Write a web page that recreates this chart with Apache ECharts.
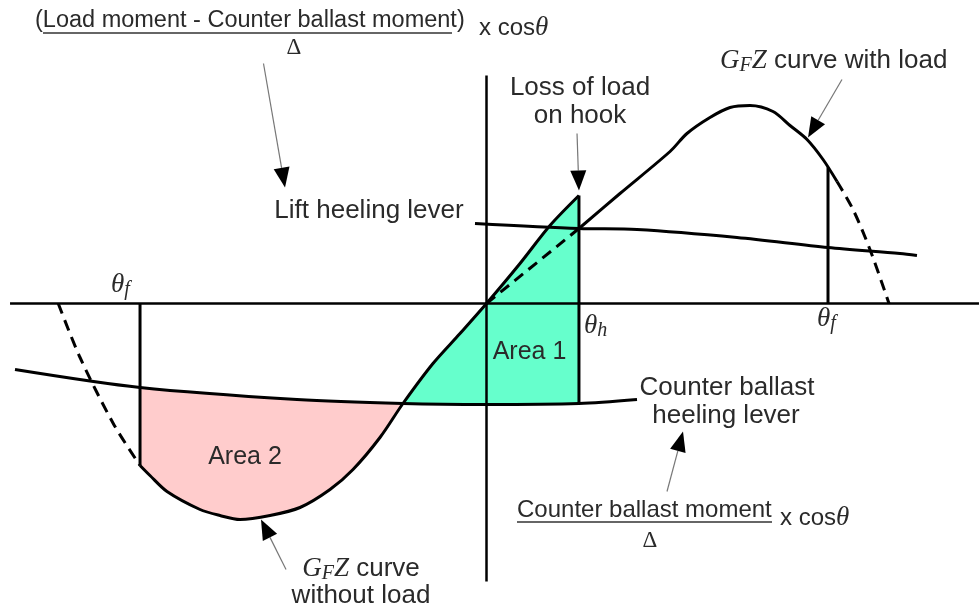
<!DOCTYPE html>
<html>
<head>
<meta charset="utf-8">
<script src="https://cdn.jsdelivr.net/npm/echarts@6/dist/echarts.min.js"></script>
<style>
  html, body { margin: 0; padding: 0; background: #ffffff; }
  #chart { width: 979px; height: 609px; }
</style>
</head>
<body>
<div id="chart"></div>
<script>
// Heel angle θ in degrees (x) against lever in metres (y)

// Angles of interest
const thetaFLeft = -37.66;   // flooding angle, heel to the counter-ballast side
const thetaH = 10.05;        // heel at the moment the load is lost
const thetaFRight = 37.12;   // flooding angle, heel to the load side

// G_F Z curve without load (solid part, from θf up to the loss-of-load point)
const gzNoLoad = [
  [-37.66, -0.81], [-36.58, -0.86], [-34.73, -0.94], [-31.14, -1.03],
  [-28.97, -1.06], [-26.79, -1.08], [-23.53, -1.06], [-20.27, -1.02],
  [-17.01, -0.93], [-14.51, -0.83], [-11.58, -0.67], [-9.08, -0.50],
  [-5.82, -0.30], [-2.88, -0.15], [0, 0], [3.64, 0.20],
  [6.90, 0.39], [10.05, 0.54]
];
// same curve beyond the flooding angle
const gzNoLoadBeyond = [
  [-46.55, 0], [-44.18, -0.27], [-40.57, -0.60], [-37.66, -0.81]
];

// G_F Z curve with load
const gzLoadStart = [[0, 0], [10.05, 0.375]];
const gzLoad = [
  [10.05, 0.375], [14.51, 0.55], [19.95, 0.76], [21.79, 0.85],
  [24.29, 0.93], [26.47, 0.98], [28.64, 0.99], [31.14, 0.96],
  [32.99, 0.89], [34.84, 0.82], [36.58, 0.72], [38.10, 0.61]
];
const gzLoadBeyond = [
  [38.10, 0.61], [39.84, 0.47], [41.68, 0.27], [43.75, 0]
];

// Heeling levers
const liftLever = [
  [-1.25, 0.40], [10.05, 0.375], [16.36, 0.37], [27.23, 0.33],
  [37.12, 0.28], [44.95, 0.25], [46.79, 0.24]
];
const counterLever = [
  [-51.25, -0.33], [-37.66, -0.42], [-20.6, -0.48], [-9.08, -0.50],
  [0, -0.505], [10.05, -0.50], [16.36, -0.48]
];

// Axes drawn as plain lines
const heelAxis = [[-51.79, 0], [53.53, 0]];
const leverAxis = [[0, 1.14], [0, -1.39]];

// Callout arrows: [tailX, tailY, tipX, tipY]
const arrows = [
  [-24.24, 1.20, -21.90, 0.58],
  [9.84, 0.85, 10.05, 0.565],
  [38.64, 1.12, 34.95, 0.83],
  [19.62, -0.94, 21.36, -0.64],
  [-21.79, -1.33, -24.51, -1.08]
];

function valueAt(arr, x) {
  for (let i = 0; i < arr.length - 1; i++) {
    const a = arr[i], b = arr[i + 1];
    if ((x - a[0]) * (x - b[0]) <= 0) {
      const t = b[0] === a[0] ? 0 : (x - a[0]) / (b[0] - a[0]);
      return a[1] + t * (b[1] - a[1]);
    }
  }
  return arr[arr.length - 1][1];
}

const between = (arr, lo, hi) => arr.filter(p => p[0] >= lo - 1e-9 && p[0] <= hi + 1e-9);
const crossing = gzNoLoad.find(p => Math.abs(p[0] - (-9.08)) < 1e-9)[0];

// Shaded areas
const area1 = between(gzNoLoad, crossing, thetaH)
  .concat(between(counterLever, crossing, thetaH).reverse());
const area2 = between(gzNoLoad, thetaFLeft, crossing)
  .concat(between(counterLever, thetaFLeft, crossing).reverse());

// Vertical markers
const markFLeft = [[thetaFLeft, 0], [thetaFLeft, valueAt(gzNoLoad, thetaFLeft)]];
const markH = [[thetaH, valueAt(counterLever, thetaH)], [thetaH, valueAt(gzNoLoad, thetaH)]];
const markFRight = [[thetaFRight, 0], [thetaFRight, valueAt(gzLoad, thetaFRight)]];

const chart = echarts.init(document.getElementById('chart'), null, { renderer: 'canvas' });

const sans = '"Liberation Sans", Arial, sans-serif';
const serif = '"Liberation Serif", "Times New Roman", serif';
const ink = '#2a2a2a';

function polygonSeries(points, color) {
  return {
    type: 'custom',
    silent: true,
    z: 1,
    data: [[0]],
    renderItem: function (params, api) {
      return {
        type: 'polygon',
        shape: { points: points.map(p => api.coord(p)) },
        style: { fill: color, stroke: 'none' }
      };
    }
  };
}

function lineSeries(data, width, dashed, smooth) {
  return {
    type: 'line',
    data: data,
    symbol: 'none',
    silent: true,
    z: 3,
    smooth: smooth || false,
    lineStyle: { color: '#000', width: width, type: dashed ? [11, 7] : 'solid', cap: 'butt', join: 'round' }
  };
}

const arrowSeries = {
  type: 'custom',
  silent: true,
  z: 5,
  data: arrows,
  renderItem: function (params, api) {
    const a = api.coord([api.value(0), api.value(1)]);
    const b = api.coord([api.value(2), api.value(3)]);
    const dx = b[0] - a[0], dy = b[1] - a[1];
    const len = Math.sqrt(dx * dx + dy * dy);
    const ux = dx / len, uy = dy / len;
    const headL = 20, headW = 16;
    const base = [b[0] - ux * headL, b[1] - uy * headL];
    const left = [base[0] - uy * headW / 2, base[1] + ux * headW / 2];
    const right = [base[0] + uy * headW / 2, base[1] - ux * headW / 2];
    return {
      type: 'group',
      children: [
        { type: 'line', shape: { x1: a[0], y1: a[1], x2: base[0], y2: base[1] },
          style: { stroke: '#777', lineWidth: 1.2 } },
        { type: 'polygon', shape: { points: [b, left, right] },
          style: { fill: '#000' } }
      ]
    };
  }
};

function label(x, y, text, size, align) {
  return { type: 'text', x: x, y: y, z: 10, silent: true,
    style: { text: text, fill: ink, font: size + 'px ' + sans, align: align || 'center', verticalAlign: 'middle' } };
}

function rich(x, y, text, align) {
  return { type: 'text', x: x, y: y, z: 10, silent: true,
    style: {
      text: text, align: align || 'left', verticalAlign: 'middle', fill: ink,
      rich: {
        n: { fontFamily: sans, fontSize: 26, fill: ink },
        f: { fontFamily: sans, fontSize: 24, fill: ink },
        i: { fontFamily: serif, fontStyle: 'italic', fontSize: 27, fill: ink },
        s: { fontFamily: serif, fontStyle: 'italic', fontSize: 20, fill: ink, padding: [10, 0, 0, 0] }
      }
    } };
}

function rule(x1, x2, y) {
  return { type: 'line', z: 10, silent: true, shape: { x1: x1, y1: y, x2: x2, y2: y },
    style: { stroke: '#333', lineWidth: 1.6 } };
}

function delta(x, y) {
  return { type: 'text', x: x, y: y, z: 10, silent: true,
    style: { text: 'Δ', fill: ink, font: '23px ' + serif, align: 'center', verticalAlign: 'middle' } };
}

const option = {
  animation: false,
  backgroundColor: '#ffffff',
  grid: { left: 0, right: 0, top: 0, bottom: 0, containLabel: false },
  xAxis: { type: 'value', min: -486.5 / 9.2, max: 492.5 / 9.2, show: false },
  yAxis: { type: 'value', min: -305.5 / 200, max: 303.5 / 200, show: false },
  series: [
    polygonSeries(area1, '#66ffcc'),
    polygonSeries(area2, '#ffcccc'),
    lineSeries(heelAxis, 2.5, false),
    lineSeries(leverAxis, 2.5, false),
    lineSeries(counterLever, 3, false, 0.3),
    lineSeries(liftLever, 3, false, 0.3),
    lineSeries(markFLeft, 3, false),
    lineSeries(markH, 3, false),
    lineSeries(markFRight, 3, false),
    lineSeries(gzNoLoad, 3, false, 0.3),
    lineSeries(gzNoLoadBeyond, 3, true, 0.3),
    lineSeries(gzLoadStart, 3, true),
    lineSeries(gzLoad, 3, false, 0.3),
    lineSeries(gzLoadBeyond, 3, true, 0.3),
    arrowSeries
  ],
  graphic: [
    label(35, 21, '(Load moment - Counter ballast moment)', 23.5, 'left'),
    rule(43, 452, 33),
    rich(479, 28, '{f|x cos}{i|θ}'),
    delta(294, 48),
    label(580, 88, 'Loss of load', 26),
    label(580, 116, 'on hook', 26),
    rich(720, 61, '{i|G}{s|F}{i|Z}{n| curve with load}'),
    label(369, 211, 'Lift heeling lever', 26),
    rich(111, 285, '{i|θ}{s|f}'),
    rich(584, 326, '{i|θ}{s|h}'),
    rich(817, 319, '{i|θ}{s|f}'),
    label(529.5, 352.5, 'Area 1', 25),
    label(245, 457, 'Area 2', 25),
    label(727, 387.5, 'Counter ballast', 26),
    label(726, 416, 'heeling lever', 26),
    label(517, 510.5, 'Counter ballast moment', 24, 'left'),
    rule(517, 772, 522),
    rich(780, 518, '{f|x cos}{i|θ}'),
    delta(650, 541),
    rich(361, 569, '{i|G}{s|F}{i|Z}{n| curve}', 'center'),
    label(361, 596, 'without load', 26)
  ]
};

chart.setOption(option);
</script>
</body>
</html>
